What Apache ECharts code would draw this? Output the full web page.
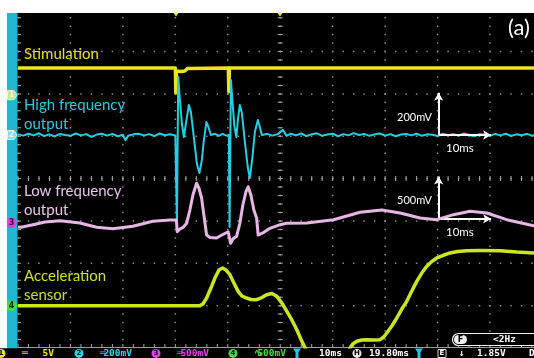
<!DOCTYPE html>
<html>
<head>
<meta charset="utf-8">
<title>Scope capture (a)</title>
<script src="https://cdn.jsdelivr.net/npm/echarts@6.0.0/dist/echarts.min.js"></script>
<style>
  html, body { margin: 0; padding: 0; background: #ffffff; }
  #scope { width: 534px; height: 358px; }
</style>
</head>
<body>
<div id="scope"></div>
<script>
// every trace: [time in ms from the left edge of the screen, value]
// ch1, volts
const stimulation = [
  [0, 3.2], [30.0, 3.2], [30.1, 0.3], [30.2, 2.85], [31.0, 2.8], [31.8, 2.85],
  [32.3, 3.15], [32.6, 3.2], [40.1, 3.2], [40.2, 0.4], [40.3, 3.2], [100, 3.2]
];
// ch2, mV
const highFreq = [
  [0, 4], [1, -3], [2, 6], [3, -2], [4, 8], [5, -5], [6, 3], [7, -7], [8, 5], [9, 0],
  [10, -4], [11, 7], [12, -2], [13, 4], [14, -9], [15, 2], [16, 6], [17, -3], [18, 5],
  [19, -6], [20, 1], [20.5, -25], [21, -4], [22, 3], [23, 6], [24, -2], [25, 4], [26, -5],
  [27, 7], [28, -1], [29, 3], [30, -2],
  [30.2, 0], [30.3, -416], [30.55, 274], [30.87, 165], [31.25, 52], [31.63, -10],
  [32.0, 52], [32.58, 142], [32.97, 108], [33.54, -14], [34.11, -137], [34.59, -180],
  [35.06, -118], [35.44, -24], [35.92, 61], [36.3, 38], [36.78, 0],
  [37.5, 6], [38.3, -4], [39.0, 5], [39.7, -3],
  [40.21, 0], [40.34, -435], [40.59, 260], [40.87, 165], [41.25, 42], [41.63, -10],
  [41.92, 71], [42.3, 142], [42.68, 104], [43.25, -33], [43.83, -156], [44.21, -203],
  [44.68, -109], [45.16, 14], [45.73, 71], [46.11, 38], [46.49, 0],
  [47.5, 5], [48.5, -3], [49.5, 4], [50.5, 24], [51.2, -4], [52, 6], [53, -2], [54, 7],
  [55, -5], [56, 3], [57, 8], [58, -4], [59, 2], [60, 6], [61, -6], [62, 4], [63, -2],
  [64, 9], [65, 0], [66, 5], [67, -4], [68, 3], [69, 7], [70, -3], [71, 4], [72, -6],
  [73, 2], [74, 5], [75, -2], [76, 6], [77, -4], [78, 3], [79, 1], [80, -5], [81, 6],
  [82, -1], [83, 4], [84, -3], [85, 7], [86, 0], [87, -6], [88, 4], [89, 2], [90, -4],
  [91, 5], [92, -2], [93, 6], [94, -5], [95, 3], [96, -1], [97, 5], [98, -3], [100, 2]
];
// ch3, mV
const lowFreq = [
  [0, -46], [0.57, -50], [2.86, -19], [5.14, 13], [8.0, 28], [11.81, 1], [15.0, -50],
  [18.1, -66], [21.9, -38], [25.7, 21], [28.96, 36], [30.2, 36], [30.35, -102],
  [30.87, -70], [31.5, -50], [32.15, -3], [32.77, 154], [33.35, 331], [34.05, 470],
  [34.49, 414], [35.0, 296], [35.44, 95], [35.96, -141], [36.59, -170], [37.86, -176],
  [38.87, -141], [40.07, -102], [40.3, -105], [40.53, -239], [40.97, -188], [41.67, -156],
  [42.3, -3], [42.87, 213], [43.45, 367], [43.88, 429], [44.4, 331], [44.97, 154],
  [45.49, 60], [45.79, -141], [46.68, -117], [48.02, -62], [49.98, -19], [51.2, -3],
  [55.07, 1], [60.16, 40], [65.23, 127], [69.36, 154], [72.85, 119], [76.66, 60],
  [79.84, 40], [83.02, 99], [86.19, 139], [89.37, 119], [93.18, 40], [98.3, -31], [100, -45]
];
// ch4, mV
const accel = [
  [0, 0], [34.68, 0], [35.25, 19], [35.96, 90], [36.78, 208], [37.54, 326], [38.31, 421],
  [39.01, 444], [39.64, 421], [40.4, 365], [41.16, 267], [41.98, 169], [42.68, 114],
  [43.58, 90], [44.4, 73], [45.49, 70], [46.49, 96], [47.39, 129], [48.4, 143],
  [49.35, 110], [50.3, 31], [51.26, -67], [52.21, -169], [53.16, -284], [53.92, -394],
  [54.74, -500], [55.64, -618], [59.07, -878], [62.31, -618], [63.32, -500], [63.83, -453],
  [64.6, -421], [65.55, -405], [66.5, -402], [67.84, -405], [69.04, -402], [69.74, -370],
  [70.31, -323], [71.27, -240], [72.22, -146], [73.17, -40], [74.12, 51], [75.08, 173],
  [76.03, 287], [76.98, 385], [77.94, 465], [78.89, 521], [79.84, 563], [80.98, 592],
  [82.37, 622], [83.84, 640], [85.56, 649], [88.03, 651], [91.9, 649], [95.08, 633],
  [98.3, 622], [100, 615]
];

// scope settings
const voltsPerDiv = [5, 200, 500, 500];
const groundDiv = [1.97, 1.03, -1.05, -3.0];
const traceLabels = [["Stimulation"], ["High frequency", "output"], ["Low frequency", "output"], ["Acceleration", "sensor"]];
const scaleBars = [{ ch: 1, t: 80.2, v: 0, dv: 200, dt: 10, vText: "200mV", tText: "10ms" },
                   { ch: 2, t: 80.2, v: 50, dv: 500, dt: 10, vText: "500mV", tText: "10ms" }];
const statusValues = ["5V", "200mV", "500mV", "500mV"];
const statusCoupling = ["\u2550", "\u2550", "\u2550", "\u223F"];
const timebase = "10ms";
const hPosition = "19.80ms";
const trigLevel = "1.85V";
const trigFreq = "<2Hz";
const panelTag = "(a)";

const DIV_X = 52.45, DIV_Y = 42.35;
const X0 = 18, Y_BOT = 348;
const GRID_TOP = Y_BOT - 8 * DIV_Y;
const CENTER_Y = Y_BOT - 4 * DIV_Y;
const CENTER_X = X0 + 5 * DIV_X;
const traceColors = ["#eee31c", "#22d0e6", "#e8b6e4", "#cbe51e"];
const labelColors = ["#e9e01c", "#2bc9de", "#eac3ec", "#cbe01e"];
const statusColors = ["#f2e600", "#22d8ee", "#ee3cee", "#3ee03e"];
const markerFill = ["#bfe59a", "#7fe0ee", "#e23ee6", "#3ee03e"];
const labelPos = [54, 105, 191.5, 276.5];
const traceWidth = [3.5, 2, 3, 3.5];
const allTraces = [stimulation, highFreq, lowFreq, accel];

const chart = echarts.init(document.getElementById("scope"));

// time axis + one hidden vertical axis per channel (V/div and ground offset)
const xAxis = [{ type: "value", min: 0, max: 100, show: false, axisLine: { onZero: false } }];
const yAxis = voltsPerDiv.map((s, i) => ({
  type: "value", show: false, min: (-4 - groundDiv[i]) * s, max: (4 - groundDiv[i]) * s,
  axisLine: { onZero: false }
}));

const series = allTraces.map((data, i) => ({
  name: traceLabels[i].join(" "),
  type: "line",
  xAxisIndex: 0,
  yAxisIndex: i,
  data: data,
  showSymbol: false,
  symbol: "none",
  silent: true,
  z: 3 + i,
  lineStyle: { color: traceColors[i], width: traceWidth[i], join: "round" }
}));
scaleBars.forEach((b) => {
  series[b.ch].markLine = {
    silent: true,
    symbol: ["none", "arrow"],
    symbolSize: [7, 8],
    label: { show: false },
    lineStyle: { color: "#ffffff", width: 2, type: "solid" },
    data: [
      [{ coord: [b.t, b.v] }, { coord: [b.t, b.v + b.dv] }],
      [{ coord: [b.t, b.v] }, { coord: [b.t + b.dt, b.v] }]
    ]
  };
});

const g = [];
const add = (el, z) => { el.silent = true; el.z = z == null ? 100 : z; g.push(el); };

// graticule: dotted division lines, edge and centre ticks
const dotStroke = "#8a8a8a", tickStroke = "#a8a8a8";
for (let k = 0; k < 10; k++) {
  const x = X0 + k * DIV_X;
  add({ type: "line", shape: { x1: x, y1: GRID_TOP - 0.75, x2: x, y2: Y_BOT },
    style: { stroke: dotStroke, lineWidth: 1.5, lineDash: [1.5, DIV_Y / 5 - 1.5] } }, 1);
}
for (let j = 1; j < 8; j++) {
  const y = GRID_TOP + j * DIV_Y;
  add({ type: "line", shape: { x1: X0 - 0.75, y1: y, x2: 534, y2: y },
    style: { stroke: dotStroke, lineWidth: 1.5, lineDash: [1.5, DIV_X / 5 - 1.5] } }, 1);
}
add({ type: "line", shape: { x1: X0, y1: Y_BOT - 0.5, x2: 534, y2: Y_BOT - 0.5 }, style: { stroke: "#9c9c9c", lineWidth: 1 } }, 1);
add({ type: "line", shape: { x1: X0 - 0.5, y1: Y_BOT - 2.5, x2: 534, y2: Y_BOT - 2.5 },
  style: { stroke: tickStroke, lineWidth: 3, lineDash: [1, DIV_X / 5 - 1] } }, 1);
add({ type: "line", shape: { x1: X0 + 1.5, y1: GRID_TOP - 0.5, x2: X0 + 1.5, y2: Y_BOT },
  style: { stroke: tickStroke, lineWidth: 3, lineDash: [1, DIV_Y / 5 - 1] } }, 1);
add({ type: "line", shape: { x1: X0 - 0.5, y1: CENTER_Y, x2: 534, y2: CENTER_Y },
  style: { stroke: tickStroke, lineWidth: 5, lineDash: [1, DIV_X / 5 - 1] } }, 1);
add({ type: "line", shape: { x1: CENTER_X, y1: GRID_TOP - 0.5, x2: CENTER_X, y2: Y_BOT },
  style: { stroke: tickStroke, lineWidth: 5, lineDash: [1, DIV_Y / 5 - 1] } }, 1);

// paper margins and channel strip (the canvas itself is black)
add({ type: "rect", shape: { x: 0, y: 0, width: 534, height: 13 }, style: { fill: "#ffffff" } });
add({ type: "rect", shape: { x: 0, y: 0, width: 7, height: 348.5 }, style: { fill: "#ffffff" } });
add({ type: "rect", shape: { x: 7, y: 13, width: 10.5, height: 335.5 }, style: { fill: "#1fb8d0" } });

// trigger / position markers at the top edge
[176, 280].forEach((x) => add({ type: "polygon", shape: { points: [[x - 2.5, 13], [x + 2.5, 13], [x, 16.5]] }, style: { fill: "#eee31c" } }));

// channel ground markers on the left strip
groundDiv.forEach((gd, i) => {
  const y = CENTER_Y - gd * DIV_Y;
  add({ type: "polygon", shape: { points: [[7.5, y - 4.5], [14, y - 4.5], [17, y], [14, y + 4.5], [7.5, y + 4.5]] },
    style: { fill: markerFill[i], stroke: i < 2 ? "#e8f6b0" : markerFill[i], lineWidth: 1 } });
  add({ type: "text", style: { text: String(i + 1), x: 11.5, y: y, fill: i < 2 ? "#f4f8d0" : "#222",
    font: "bold 8px 'DejaVu Sans'", align: "center", verticalAlign: "middle" } });
});

// trace labels
traceLabels.forEach((lines, i) => {
  lines.forEach((t, k) => add({ type: "text", style: { text: t, x: 24, y: labelPos[i] + k * 19,
    fill: labelColors[i], font: "15px Lato", verticalAlign: "middle" } }));
});
add({ type: "text", style: { text: panelTag, x: 508, y: 28, fill: "#ffffff", font: "22px Lato", verticalAlign: "middle" } });

// scale bar captions
const captionY = [[117, 148], [200, 232.5]];
scaleBars.forEach((b, i) => {
  add({ type: "text", style: { text: b.vText, x: 397, y: captionY[i][0], fill: "#ffffff", font: "11px Lato", verticalAlign: "middle" } });
  add({ type: "text", style: { text: b.tText, x: 446, y: captionY[i][1], fill: "#ffffff", font: "11.5px Lato", verticalAlign: "middle" } });
});

// status bar
const sbY = 353.4;
const sbFont = "bold 9.5px 'DejaVu Sans Mono'";
const chanX = [1, 79, 156, 233];
add({ type: "rect", shape: { x: 0, y: 348.5, width: 534, height: 10 }, style: { fill: "#000000" } });
statusValues.forEach((v, i) => {
  const cx = chanX[i];
  add({ type: "circle", shape: { cx: cx, cy: sbY, r: 4.5 }, style: { fill: statusColors[i] } });
  add({ type: "text", style: { text: String(i + 1), x: cx, y: sbY, fill: "#000", font: "bold 7px 'DejaVu Sans'", align: "center", verticalAlign: "middle" } });
  add({ type: "text", style: { text: statusCoupling[i], x: cx + 21, y: sbY, fill: statusColors[i], font: sbFont, verticalAlign: "middle" } });
  add({ type: "text", style: { text: v, x: cx + 53, y: sbY, fill: statusColors[i], font: sbFont, align: "right", verticalAlign: "middle" } });
});
[297, 419].forEach((x) => add({ type: "polygon",
  shape: { points: [[x - 4, 348.5], [x + 4, 348.5], [x + 1.5, 352], [x + 1.5, 358], [x - 1.5, 358], [x - 1.5, 352]] },
  style: { fill: "#22c8e6" } }));
add({ type: "text", style: { text: timebase, x: 319, y: sbY, fill: "#fff", font: sbFont, verticalAlign: "middle" } });
add({ type: "circle", shape: { cx: 357, cy: sbY, r: 4.5 }, style: { fill: "#e8e8e8" } });
add({ type: "text", style: { text: "H", x: 357, y: sbY, fill: "#000", font: "bold 7px 'DejaVu Sans'", align: "center", verticalAlign: "middle" } });
add({ type: "text", style: { text: hPosition, x: 369, y: sbY, fill: "#fff", font: sbFont, verticalAlign: "middle" } });
add({ type: "rect", shape: { x: 438, y: 349.5, width: 8, height: 8 }, style: { fill: "#000", stroke: "#ddd", lineWidth: 1 } });
add({ type: "text", style: { text: "E", x: 442, y: sbY, fill: "#fff", font: "bold 7px 'DejaVu Sans'", align: "center", verticalAlign: "middle" } });
add({ type: "text", style: { text: "\u2193", x: 459, y: sbY, fill: "#fff", font: sbFont, verticalAlign: "middle" } });
add({ type: "text", style: { text: trigLevel, x: 477, y: sbY, fill: "#fff", font: sbFont, verticalAlign: "middle" } });
add({ type: "text", style: { text: "D", x: 529, y: sbY, fill: "#fff", font: sbFont, verticalAlign: "middle" } });

// trigger frequency box
add({ type: "rect", shape: { x: 452.5, y: 333.5, width: 90, height: 12, r: 6 }, style: { fill: "#000", stroke: "#f0f0f0", lineWidth: 1.2 } });
add({ type: "rect", shape: { x: 454, y: 335, width: 13, height: 9, r: 4.5 }, style: { fill: "#f0f0f0" } });
add({ type: "text", style: { text: "F", x: 460.5, y: 339.6, fill: "#000", font: "bold 8px 'DejaVu Sans'", align: "center", verticalAlign: "middle" } });
add({ type: "text", style: { text: trigFreq, x: 493, y: 339.6, fill: "#fff", font: sbFont, verticalAlign: "middle" } });

chart.setOption({
  animation: false,
  backgroundColor: "#000000",
  grid: { left: X0, top: GRID_TOP, width: 10 * DIV_X, height: 8 * DIV_Y, outerBoundsMode: "none" },
  xAxis: xAxis,
  yAxis: yAxis,
  series: series,
  graphic: { elements: g }
});
</script>
</body>
</html>
